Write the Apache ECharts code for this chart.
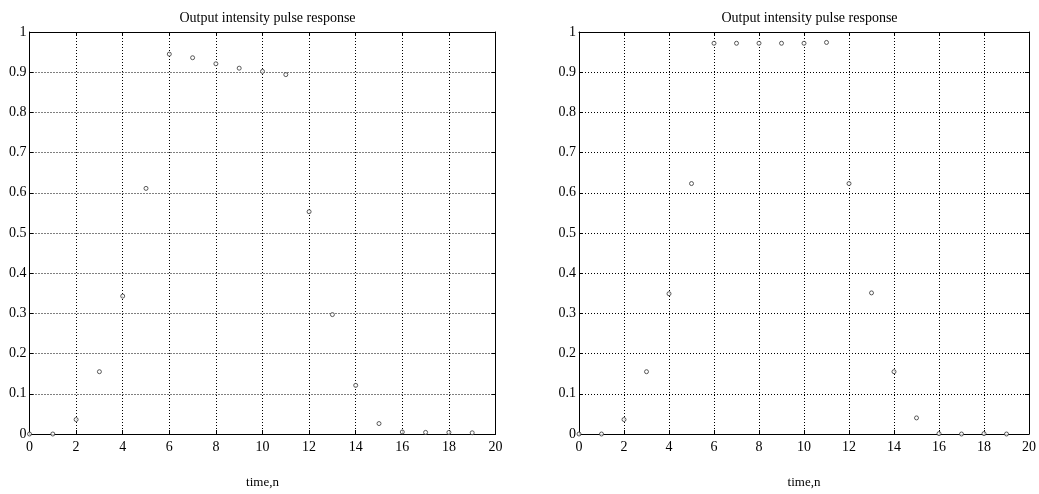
<!DOCTYPE html>
<html>
<head>
<meta charset="utf-8">
<script src="https://cdn.jsdelivr.net/npm/echarts@6/dist/echarts.min.js"></script>
<style>
html,body{margin:0;padding:0;background:#fff;}
#c{width:1039px;height:494px;}
</style>
</head>
<body>
<div id="c"></div>
<script>
var timeSteps = [0,1,2,3,4,5,6,7,8,9,10,11,12,13,14,15,16,17,18,19];
var responseLeft = [0,0,0.036,0.155,0.343,0.611,0.945,0.936,0.921,0.910,0.902,0.894,0.553,0.297,0.121,0.026,0.005,0.004,0.004,0.003];
var responseRight = [0,0,0.036,0.155,0.349,0.623,0.972,0.972,0.972,0.972,0.972,0.974,0.623,0.351,0.155,0.040,0.001,0,0.001,0];
var chartTitles = ['Output intensity pulse response','Output intensity pulse response'];
var xLabel = 'time,n';

var FONT = '"Liberation Serif","DejaVu Serif",serif';
var grids = [
  {left:29.5, top:32, width:466, height:404},
  {left:579, top:32, width:451, height:404}
];
var seriesData = [responseLeft, responseRight];

var xAxes = [], yAxes = [], series = [], titles = [];
grids.forEach(function(g, i){
  var gridLine = {show:true, lineStyle:{color:'#000', width:1, type:[1,2]}};
  var axLine = {show:true, onZero:false, lineStyle:{color:'#000', width:1}};
  xAxes.push({type:'value', gridIndex:i, min:0, max:20, interval:2, position:'bottom',
    axisLine:axLine, axisTick:{inside:true, length:4, lineStyle:{color:'#000'}},
    axisLabel:{fontFamily:FONT, fontSize:14, color:'#000', margin:6},
    splitLine:gridLine,
    name:xLabel, nameLocation:'middle', nameGap:42,
    nameTextStyle:{fontFamily:FONT, fontSize:13, color:'#000'}});
  xAxes.push({type:'value', gridIndex:i, min:0, max:20, interval:2, position:'top',
    axisLine:axLine, axisTick:{inside:true, length:4, lineStyle:{color:'#000'}},
    axisLabel:{show:false}, splitLine:{show:false}});
  yAxes.push({type:'value', gridIndex:i, min:0, max:1, interval:0.1, position:'left',
    axisLine:axLine, axisTick:{inside:true, length:4, lineStyle:{color:'#000'}},
    axisLabel:{fontFamily:FONT, fontSize:14, color:'#000', margin:3},
    splitLine:gridLine});
  yAxes.push({type:'value', gridIndex:i, min:0, max:1, interval:0.1, position:'right',
    axisLine:axLine, axisTick:{inside:true, length:4, lineStyle:{color:'#000'}},
    axisLabel:{show:false}, splitLine:{show:false}});
  series.push({type:'scatter', xAxisIndex:i*2, yAxisIndex:i*2,
    data: timeSteps.map(function(t, k){ return [t, seriesData[i][k]]; }),
    symbol:'circle', symbolSize:4,
    itemStyle:{color:'#fff', borderColor:'#333', borderWidth:1},
    emphasis:{disabled:true}, z:5});
  titles.push({text:chartTitles[i], left:g.left + g.width/2, top:6, textAlign:'center',
    textStyle:{fontFamily:FONT, fontSize:14, fontWeight:'normal', color:'#000'}});
});

var chart = echarts.init(document.getElementById('c'));
chart.setOption({
  animation:false,
  backgroundColor:'#fff',
  title:titles,
  grid:grids,
  xAxis:xAxes,
  yAxis:yAxes,
  series:series
});
</script>
</body>
</html>
